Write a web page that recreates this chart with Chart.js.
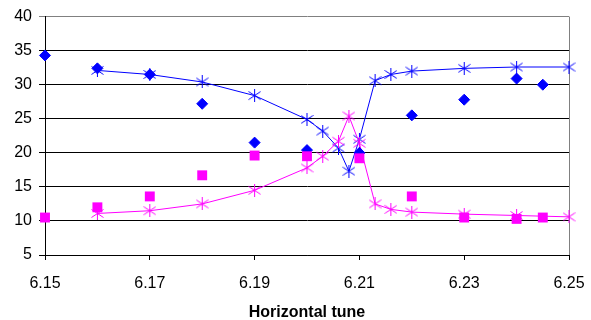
<!DOCTYPE html>
<html>
<head>
<meta charset="utf-8">
<script src="https://cdn.jsdelivr.net/npm/chart.js@4"></script>
<style>
  html, body { margin: 0; padding: 0; background: #fff; }
  #wrap { width: 591px; height: 320px; }
</style>
</head>
<body>
<div id="wrap"><canvas id="chart"></canvas></div>
<script>
const diamondX = [6.15, 6.16, 6.17, 6.18, 6.19, 6.20, 6.21, 6.22, 6.23, 6.24, 6.245];
const diamondY = [34.3, 32.4, 31.5, 27.2, 21.5, 20.4, 20.0, 25.5, 27.8, 30.9, 30.0];
const squareX = [6.15, 6.16, 6.17, 6.18, 6.19, 6.20, 6.21, 6.22, 6.23, 6.24, 6.245];
const squareY = [10.5, 12.0, 13.6, 16.7, 19.6, 19.5, 19.2, 13.6, 10.5, 10.3, 10.5];
const lineX = [6.16, 6.17, 6.18, 6.19, 6.20, 6.203, 6.206, 6.208, 6.21, 6.213, 6.216, 6.22, 6.23, 6.24, 6.25];
const blueLineY = [32.1, 31.5, 30.4, 28.4, 24.9, 23.2, 20.7, 17.3, 22.0, 30.6, 31.5, 32.0, 32.4, 32.6, 32.6];
const pinkLineY = [11.1, 11.5, 12.5, 14.5, 17.8, 19.5, 21.7, 25.4, 21.4, 12.5, 11.7, 11.3, 11.0, 10.8, 10.6];
const xTicks = [6.15, 6.17, 6.19, 6.21, 6.23, 6.25];
const yTicks = [5, 10, 15, 20, 25, 30, 35, 40];
const xTitle = "Horizontal tune";

const BLUE = "#0000ff";
const PINK = "#ff00ff";

// excel style star marker: an X with a vertical bar
function starMarker(color) {
  const c = document.createElement("canvas");
  c.width = 13;
  c.height = 13;
  const g = c.getContext("2d");
  g.strokeStyle = color;
  g.lineWidth = 1;
  g.beginPath();
  g.moveTo(6.5, 0);
  g.lineTo(6.5, 13);
  g.moveTo(0.5, 2.5);
  g.lineTo(12.5, 10.5);
  g.moveTo(0.5, 10.5);
  g.lineTo(12.5, 2.5);
  g.stroke();
  return c;
}

const toPoints = (xs, ys) => xs.map((x, i) => ({ x, y: ys[i] }));

const rightBorder = {
  id: "rightBorder",
  beforeDatasetsDraw(chart) {
    const { ctx, chartArea } = chart;
    ctx.save();
    ctx.strokeStyle = "#808080";
    ctx.lineWidth = 1;
    ctx.beginPath();
    const x = Math.round(chartArea.right) + 0.5;
    ctx.moveTo(x, chartArea.top);
    ctx.lineTo(x, chartArea.bottom);
    ctx.stroke();
    ctx.restore();
  },
};

const font = { family: "'Liberation Sans', Arial, sans-serif", size: 16 };

new Chart(document.getElementById("chart"), {
  type: "scatter",
  data: {
    datasets: [
      {
        data: toPoints(squareX, squareY),
        pointStyle: "rect",
        pointRadius: 7,
        backgroundColor: PINK,
        borderColor: PINK,
        borderWidth: 0,
        showLine: false,
        clip: false,
        order: 1,
      },
      {
        data: toPoints(diamondX, diamondY),
        pointStyle: "rectRot",
        pointRadius: 5.5,
        backgroundColor: BLUE,
        borderColor: BLUE,
        borderWidth: 1,
        showLine: false,
        clip: false,
        order: 2,
      },
      {
        data: toPoints(lineX, pinkLineY),
        pointStyle: starMarker(PINK),
        borderColor: PINK,
        borderWidth: 1,
        showLine: true,
        clip: false,
        order: 3,
      },
      {
        data: toPoints(lineX, blueLineY),
        pointStyle: starMarker(BLUE),
        borderColor: BLUE,
        borderWidth: 1,
        showLine: true,
        clip: false,
        order: 4,
      },
    ],
  },
  options: {
    responsive: true,
    maintainAspectRatio: false,
    animation: false,
    layout: { autoPadding: false, padding: { top: 13, right: 22, left: 0, bottom: 0 } },
    plugins: { legend: { display: false }, tooltip: { enabled: false } },
    scales: {
      x: {
        type: "linear",
        min: 6.15,
        max: 6.25,
        afterBuildTicks: (scale) => {
          scale.ticks = xTicks.map((v) => ({ value: v }));
        },
        afterFit: (scale) => {
          scale.height = 65;
          scale.paddingLeft = 0;
          scale.paddingRight = 0;
        },
        ticks: {
          color: "#000",
          font,
          padding: 14,
          maxRotation: 0,
          callback: (v) => v.toFixed(2),
        },
        grid: { drawOnChartArea: false, drawTicks: true, tickLength: 5, color: "#000" },
        border: { color: "#000" },
        title: {
          display: true,
          text: xTitle,
          color: "#000",
          font: { family: font.family, size: 16, weight: "bold" },
          padding: { top: 0, bottom: -2 },
        },
      },
      y: {
        min: 5,
        max: 40,
        afterBuildTicks: (scale) => {
          scale.ticks = yTicks.map((v) => ({ value: v }));
        },
        afterFit: (scale) => {
          scale.width = 45;
        },
        ticks: { color: "#000", font, padding: 7 },
        grid: {
          color: (ctx) => (ctx.tick && ctx.tick.value === 40 ? "#808080" : "#000"),
          tickLength: 6,
        },
        border: { color: "#000" },
      },
    },
  },
  plugins: [rightBorder],
});
</script>
</body>
</html>
